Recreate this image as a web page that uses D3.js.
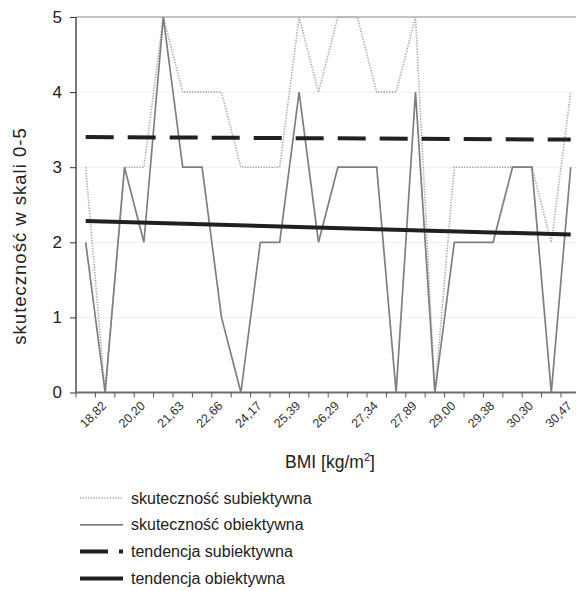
<!DOCTYPE html>
<html><head><meta charset="utf-8">
<script src="https://d3js.org/d3.v7.min.js"></script>
<style>body{margin:0;background:#fff}svg{display:block;font-family:"Liberation Sans",Arial,sans-serif}</style>
</head><body>
<svg id="c" width="576" height="591"></svg>
<script>
const categories = ["", "18,82", "", "20,20", "", "21,63", "", "22,66", "", "24,17", "", "25,39", "", "26,29", "", "27,34", "", "27,89", "", "29,00", "", "29,38", "", "30,30", "", "30,47"];
const subjective = [3,0,3,3,5,4,4,4,3,3,3,5,4,5,5,4,4,5,0,3,3,3,3,3,2,4];
const objective  = [2,0,3,2,5,3,3,1,0,2,2,4,2,3,3,3,0,4,0,2,2,2,3,3,0,3];
const yTicks = [0,1,2,3,4,5];
const legendLabels = ["skuteczność subiektywna","skuteczność obiektywna","tendencja subiektywna","tendencja obiektywna"];

const svg = d3.select("#c");
const pL = 76, pR = 580.4, pT = 17, pB = 392.5;
const x = d3.scaleBand().domain(d3.range(categories.length)).range([pL, pR]).paddingInner(0).paddingOuter(0);
const cx = i => x(i) + x.bandwidth()/2;
const y = d3.scaleLinear().domain([0,5]).range([pB, pT]);

function trend(vals){
  const n = vals.length, mx = (n-1)/2, my = d3.mean(vals);
  let sxy=0, sxx=0;
  vals.forEach((v,i)=>{sxy+=(i-mx)*(v-my); sxx+=(i-mx)*(i-mx);});
  const b = sxy/sxx, a = my - b*mx;
  return [[0, a],[n-1, a+b*(n-1)]];
}

// gridlines
svg.append("g").selectAll("line").data(yTicks.filter(t=>t>0)).join("line")
  .attr("x1", pL).attr("x2", pR).attr("y1", d=>y(d)).attr("y2", d=>y(d))
  .attr("stroke", d=> d===5 ? "#c4c4c4" : "#efefef").attr("stroke-width", d=> d===5 ? 2 : 1);

// y axis
const yAxis = svg.append("g").attr("transform",`translate(${pL},0)`)
  .call(d3.axisLeft(y).tickValues(yTicks).tickSize(6).tickPadding(8).tickFormat(d3.format("d")));
yAxis.select(".domain").attr("stroke","#333").attr("stroke-width",1.3).attr("d",`M0,${pT}V${pB}`);
yAxis.selectAll(".tick line").attr("stroke","#333");
yAxis.selectAll("text").attr("font-size",17).attr("fill","#222").attr("font-family","Liberation Sans, Arial");

// x axis
const xAxis = svg.append("g").attr("transform",`translate(0,${pB})`);
xAxis.append("line").attr("x1",pL).attr("x2",pR).attr("stroke","#6e6e6e").attr("stroke-width",2);
xAxis.selectAll("line.tk").data(d3.range(categories.length+1)).join("line").attr("class","tk")
  .attr("x1", i=> i<categories.length ? x(i) : pR).attr("x2", i=> i<categories.length ? x(i) : pR)
  .attr("y1",0).attr("y2",5).attr("stroke","#555").attr("stroke-width",1);
xAxis.selectAll("text").data(d3.range(categories.length)).join("text")
  .attr("transform", i=>`translate(${cx(i)+2},${14}) rotate(-45)`)
  .attr("text-anchor","end").attr("font-size",12.5).attr("fill","#333")
  .text(i=>categories[i]);

const line = d3.line().x(d=>cx(d[0])).y(d=>y(d[1]));

// subjective (dotted)
svg.append("path").datum(subjective.map((v,i)=>[i,v])).attr("d", line)
  .attr("fill","none").attr("stroke","#a8a8a8").attr("stroke-width",1.6).attr("stroke-dasharray","1.3,1.4");
// objective (solid)
svg.append("path").datum(objective.map((v,i)=>[i,v])).attr("d", line)
  .attr("fill","none").attr("stroke","#7f7f7f").attr("stroke-width",1.7).attr("stroke-linejoin","miter");
// trends
svg.append("path").datum(trend(subjective)).attr("d", line)
  .attr("fill","none").attr("stroke","#231f20").attr("stroke-width",4).attr("stroke-dasharray","28,14");
svg.append("path").datum(trend(objective)).attr("d", line)
  .attr("fill","none").attr("stroke","#231f20").attr("stroke-width",4);

// axis titles
svg.append("text").attr("transform","translate(26,236) rotate(-90)").attr("text-anchor","middle")
  .attr("font-size",18.5).attr("letter-spacing",1).attr("fill","#222").text("skuteczność w skali 0-5");
const xt = svg.append("text").attr("x",330).attr("y",468).attr("text-anchor","middle").attr("font-size",17.5).attr("fill","#222");
xt.append("tspan").text("BMI [kg/m");
xt.append("tspan").attr("dy",-7).attr("font-size",11).text("2");
xt.append("tspan").attr("dy",7).text("]");

// legend
const styles = [
  {stroke:"#a8a8a8", w:1.6, dash:"1.3,1.4"},
  {stroke:"#7f7f7f", w:1.7, dash:null},
  {stroke:"#231f20", w:4, dash:"28,11"},
  {stroke:"#231f20", w:4, dash:null}
];
const lg = svg.append("g").selectAll("g").data(legendLabels).join("g")
  .attr("transform",(d,i)=>`translate(80,${498 + i*26.8})`);
lg.append("line").attr("x1",0).attr("x2",43).attr("y1",0).attr("y2",0)
  .attr("stroke",(d,i)=>styles[i].stroke).attr("stroke-width",(d,i)=>styles[i].w)
  .attr("stroke-dasharray",(d,i)=>styles[i].dash);
lg.append("text").attr("x",51).attr("y",5.5).attr("font-size",16).attr("fill","#222").text(d=>d);
</script>
</body></html>
